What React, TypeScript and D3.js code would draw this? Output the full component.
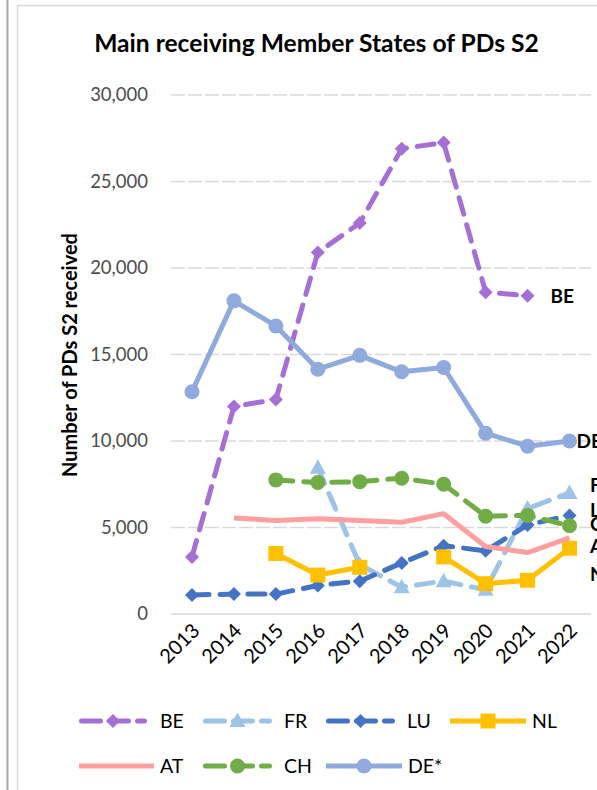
import React from 'react';
import * as d3 from 'd3';

const years = ['2013', '2014', '2015', '2016', '2017', '2018', '2019', '2020', '2021', '2022'];
const beValues = [3300, 12000, 12400, 20900, 22600, 26900, 27250, 18600, 18400, null];
const frValues = [null, null, null, 8450, 2850, 1550, 1900, 1400, 6100, 7000];
const luValues = [1100, 1150, 1150, 1650, 1900, 2950, 3950, 3650, 5150, 5700];
const nlValues = [null, null, 3500, 2250, 2700, null, 3300, 1750, 1950, 3800];
const atValues = [null, 5550, 5400, 5500, 5400, 5300, 5800, 3900, 3550, 4400];
const chValues = [null, null, 7750, 7600, 7650, 7850, 7500, 5650, 5700, 5100];
const deValues = [12850, 18100, 16650, 14150, 14950, 14000, 14250, 10450, 9700, 10000];
const yTicks = [0, 5000, 10000, 15000, 20000, 25000, 30000];
const seriesNames = ['BE', 'FR', 'LU', 'NL', 'AT', 'CH', 'DE*'];

type Marker = 'diamond' | 'triangle' | 'square' | 'circle' | 'none';
interface Style { color: string; dash: boolean; marker: Marker; }
const styles: Record<string, Style> = {
  'BE': { color: '#a66fd6', dash: true, marker: 'diamond' },
  'FR': { color: '#9dc3e6', dash: true, marker: 'triangle' },
  'LU': { color: '#4472c4', dash: true, marker: 'diamond' },
  'NL': { color: '#ffc000', dash: false, marker: 'square' },
  'AT': { color: '#ff9f9f', dash: false, marker: 'none' },
  'CH': { color: '#70ad47', dash: true, marker: 'circle' },
  'DE*': { color: '#8faadc', dash: false, marker: 'circle' },
};
// end-label placement (pixel offsets relative to last point)
const labelLayout: Record<string, { dx: number; dy: number; absX?: number }> = {
  'BE': { dx: 23, dy: 1 },
  'DE*': { dx: 7, dy: 0 },
  'FR': { dx: 0, dy: -8, absX: 590 },
  'LU': { dx: 0, dy: -5, absX: 590 },
  'CH': { dx: 0, dy: -1, absX: 590 },
  'AT': { dx: 0, dy: 8, absX: 590 },
  'NL': { dx: 0, dy: 26, absX: 590 },
};
const legendLayout: Record<string, { x0: number; x1: number; tx: number; y: number }> = {
  'BE': { x0: 79, x1: 147, tx: 160, y: 721 },
  'FR': { x0: 203, x1: 272, tx: 284, y: 721 },
  'LU': { x0: 326, x1: 395, tx: 407, y: 721 },
  'NL': { x0: 450, x1: 526, tx: 532, y: 721 },
  'AT': { x0: 79, x1: 154, tx: 160, y: 766 },
  'CH': { x0: 203, x1: 272, tx: 284, y: 766 },
  'DE*': { x0: 326, x1: 402, tx: 408, y: 766 },
};

const FONT = 'Lato, "Open Sans", sans-serif';

function markerPath(m: Marker): string {
  switch (m) {
    case 'diamond': return 'M0,-7L7,0L0,7L-7,0Z';
    case 'triangle': return 'M0,-8.5L8,6L-8,6Z';
    case 'square': return 'M-7.5,-7.5H7.5V7.5H-7.5Z';
    case 'circle': return 'M7.5,0A7.5,7.5 0 1 1 -7.5,0A7.5,7.5 0 1 1 7.5,0Z';
    default: return '';
  }
}

export default function App() {
  const W = 597, H = 790;
  const x = d3.scaleBand<string>().domain(years).range([171, 590.5]).padding(0);
  const cx = (y: string) => (x(y) as number) + x.bandwidth() / 2;
  const y = d3.scaleLinear().domain([0, 30000]).range([614, 95]);
  const data: Record<string, (number | null)[]> = {
    'BE': beValues, 'FR': frValues, 'LU': luValues, 'NL': nlValues,
    'AT': atValues, 'CH': chValues, 'DE*': deValues,
  };
  const line = d3.line<number | null>()
    .defined(v => v != null)
    .x((_, i) => cx(years[i]))
    .y(v => y(v as number));

  return (
    <svg width={W} height={H} style={{ position: 'absolute', left: 0, top: 0, background: '#fff' }} fontFamily={FONT}>
      <rect x={0} y={0} width={W} height={H} fill="#fff" />
      <line x1={7.5} x2={7.5} y1={0} y2={H} stroke="#a6a6a6" strokeWidth={2} />
      <path d={`M17.5,${H}V5.5H${W}`} fill="none" stroke="#d9d9d9" strokeWidth={1.5} />
      <text x={316.5} y={52} textAnchor="middle" fontSize={24.6} fontWeight={700} fill="#000">
        Main receiving Member States of PDs S2
      </text>
      {yTicks.map(t => (
        <g key={t}>
          <line x1={171} x2={591} y1={y(t)} y2={y(t)} stroke="#d9d9d9" strokeWidth={1.5}
            strokeDasharray={t === 0 ? undefined : '14 3'} />
          <text x={148} y={y(t)} dy="0.35em" textAnchor="end" fontSize={18.5} fill="#4d4d4d">
            {d3.format(',')(t)}
          </text>
        </g>
      ))}
      <text transform={`translate(70,355) rotate(-90)`} textAnchor="middle" dy="0.35em"
        fontSize={20} fontWeight={700} fill="#000">Number of PDs S2 received</text>
      {years.map(yr => (
        <text key={yr} transform={`translate(${cx(yr) + 4},${627}) rotate(-45)`} textAnchor="end"
          dy="0.35em" fontSize={20} fill="#000">{yr}</text>
      ))}
      {seriesNames.map(name => {
        const s = styles[name];
        const vals = data[name];
        return (
          <g key={name}>
            <path d={line(vals) || ''} fill="none" stroke={s.color} strokeWidth={5}
              strokeLinejoin="round" strokeLinecap={s.dash ? 'round' : 'butt'}
              strokeDasharray={s.dash ? '17 11' : undefined} />
            {s.marker !== 'none' && vals.map((v, i) => v == null ? null : (
              <path key={i} d={markerPath(s.marker)} transform={`translate(${cx(years[i])},${y(v)})`} fill={s.color} />
            ))}
          </g>
        );
      })}
      {seriesNames.map(name => {
        const vals = data[name];
        let li = vals.length - 1;
        while (li >= 0 && vals[li] == null) li--;
        const L = labelLayout[name];
        const lx = L.absX != null ? L.absX : cx(years[li]) + L.dx;
        const ly = y(vals[li] as number) + L.dy;
        return (
          <text key={name} x={lx} y={ly} dy="0.35em" fontSize={19} fontWeight={700} fill="#000">{name}</text>
        );
      })}
      {seriesNames.map(name => {
        const s = styles[name];
        const L = legendLayout[name];
        const mid = (L.x0 + L.x1) / 2;
        return (
          <g key={name}>
            <line x1={L.x0 + (s.dash ? 2.5 : 0)} x2={L.x1 - (s.dash ? 2.5 : 0)} y1={L.y} y2={L.y} stroke={s.color} strokeWidth={5}
              strokeLinecap={s.dash ? 'round' : 'butt'} strokeDasharray={s.dash ? '19 9' : undefined} />
            {s.marker !== 'none' && (
              <path d={markerPath(s.marker)} transform={`translate(${mid},${L.y})`} fill={s.color} />
            )}
            <text x={L.tx} y={L.y} dy="0.35em" fontSize={19.5} fill="#000">{name}</text>
          </g>
        );
      })}
    </svg>
  );
}
